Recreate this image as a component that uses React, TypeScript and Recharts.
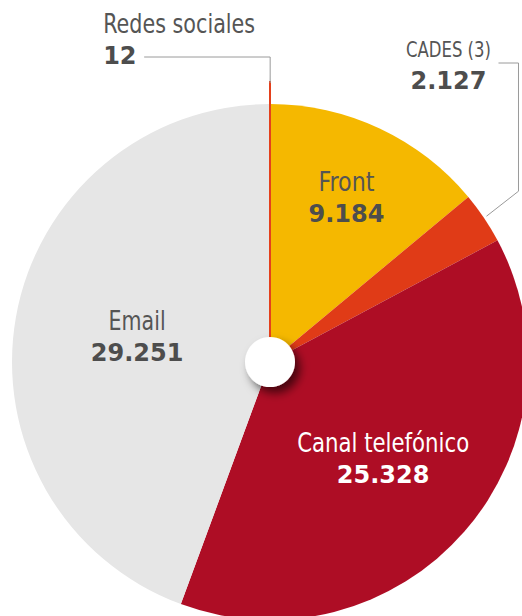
import { Cell, Pie, PieChart } from "recharts";

const CATEGORIES = ["Redes sociales", "Front", "CADES (3)", "Canal telefónico", "Email"];
const VALUES = [12, 9184, 2127, 25328, 29251];
const COLORS = ["#e4401a", "#f5b800", "#e03b17", "#ae0d25", "#e6e6e6"];
const HOLE = [{ name: "centro", value: 1 }];

const data = CATEGORIES.map((name, i) => ({ name, value: VALUES[i] }));

const W = 522;
const H = 616;
const CX = 270;
const CY = 362;
const R = 258;
const SPIKE_R = 279;

const NAME_FONT = '"DejaVu Sans Condensed", "Liberation Sans Narrow", "Roboto", sans-serif';
const NUM_FONT = '"DejaVu Sans", "Open Sans", sans-serif';

// radius where the inner labels sit, by slice index
const INNER_R: Record<number, number> = { 1: 180, 3: 150, 4: 135 };
// the names are set in a condensed face; squeeze to its width
const NAME_WIDTH: Record<number, number> = { 0: 152, 1: 56, 2: 85, 3: 172, 4: 57 };

const fmt = (v: number) => String(v).replace(/\B(?=(\d{3})+(?!\d))/g, ".");

// name on one line, bold value under it
const Block = ({ x, y, index, anchor, nameSize, gap, nameFill, numFill }: any) => (
  <g>
    <text
      x={x}
      y={y}
      textAnchor={anchor}
      fontFamily={NAME_FONT}
      fontSize={nameSize}
      fill={nameFill}
      textLength={NAME_WIDTH[index]}
      lengthAdjust="spacingAndGlyphs"
    >
      {CATEGORIES[index]}
    </text>
    <text x={x} y={y + gap} textAnchor={anchor} fontFamily={NUM_FONT} fontWeight={700} fontSize={24} fill={numFill}>
      {fmt(VALUES[index])}
    </text>
  </g>
);

const renderLabel = (props: any) => {
  const { cx, cy, midAngle, index } = props;
  const RAD = Math.PI / 180;
  const cos = Math.cos(midAngle * RAD);
  const sin = Math.sin(midAngle * RAD);

  if (index === 0) {
    const x0 = cx + SPIKE_R * cos;
    const y0 = cy - SPIKE_R * sin;
    return (
      <g key="lbl-redes">
        <polyline
          points={`${x0 - 126},${y0 - 26} ${x0},${y0 - 26} ${x0},${y0}`}
          fill="none"
          stroke="#9a9a9a"
          strokeWidth={1}
        />
        <Block x={x0 - 167} y={y0 - 50} index={0} anchor="start" nameSize={27} gap={31} nameFill="#555" numFill="#4d4d4d" />
      </g>
    );
  }

  if (index === 2) {
    const px = cx + (R + 3) * cos;
    const py = cy - (R + 3) * sin;
    return (
      <g key="lbl-cades">
        <polyline
          points={`${px},${py} ${px + 32},${py - 25} ${px + 32},63 ${px + 12},63`}
          fill="none"
          stroke="#9a9a9a"
          strokeWidth={1}
        />
        <Block x={px - 38} y={57} index={2} anchor="middle" nameSize={21} gap={32} nameFill="#555" numFill="#4d4d4d" />
      </g>
    );
  }

  const r = INNER_R[index];
  const x = cx + r * cos;
  const y = cy - r * sin;
  const light = index === 3;
  return (
    <g key={`lbl-${index}`}>
      <Block
        x={x}
        y={y - 8}
        index={index}
        anchor="middle"
        nameSize={27}
        gap={31}
        nameFill={light ? "#fff" : "#555"}
        numFill={light ? "#fff" : "#4d4d4d"}
      />
    </g>
  );
};

export default function App() {
  return (
    <div style={{ position: "absolute", left: 0, top: 0, width: W, height: H, background: "#fff" }}>
      <PieChart width={W} height={H} margin={{ top: 0, right: 0, bottom: 0, left: 0 }}>
        <defs>
          <filter id="holeShadow" x="-60%" y="-60%" width="220%" height="220%">
            <feDropShadow dx={5} dy={6} stdDeviation={5} floodColor="#000" floodOpacity={0.6} />
          </filter>
          <filter id="spikeShadow" x="-200%" y="-10%" width="500%" height="120%">
            <feDropShadow dx={3} dy={0} stdDeviation={3} floodColor="#000" floodOpacity={0.25} />
          </filter>
        </defs>
        <Pie
          data={data}
          dataKey="value"
          nameKey="name"
          cx={CX}
          cy={CY}
          innerRadius={0}
          outerRadius={R}
          startAngle={90}
          endAngle={-270}
          stroke="none"
          labelLine={false}
          label={renderLabel}
          isAnimationActive={false}
        >
          {data.map((d, i) => (
            <Cell key={`c-${d.name}`} fill={COLORS[i]} stroke="none" />
          ))}
        </Pie>
        <Pie
          data={data}
          dataKey="value"
          nameKey="name"
          cx={CX}
          cy={CY}
          innerRadius={0}
          outerRadius={SPIKE_R}
          startAngle={90}
          endAngle={-270}
          isAnimationActive={false}
          filter="url(#spikeShadow)"
        >
          {data.map((d, i) => (
            <Cell
              key={`s-${d.name}`}
              fill={i === 0 ? COLORS[0] : "none"}
              stroke={i === 0 ? COLORS[0] : "none"}
              strokeWidth={i === 0 ? 4 : 0}
            />
          ))}
        </Pie>
        <Pie
          data={HOLE}
          dataKey="value"
          cx={CX}
          cy={CY}
          innerRadius={0}
          outerRadius={25}
          stroke="none"
          fill="#fff"
          isAnimationActive={false}
          filter="url(#holeShadow)"
        />
      </PieChart>
    </div>
  );
}
